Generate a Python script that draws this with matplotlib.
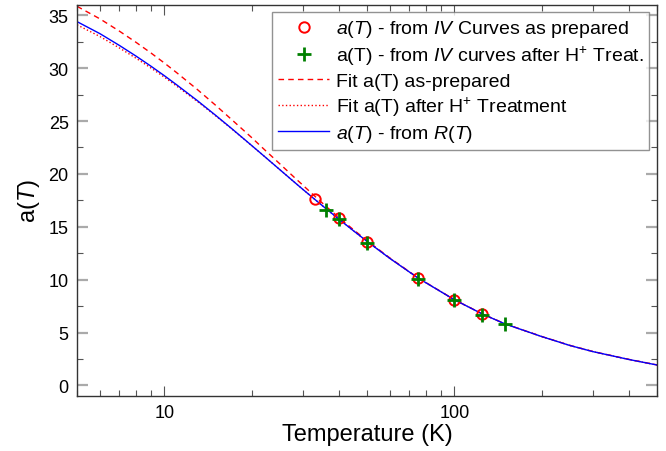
import matplotlib
matplotlib.use("Agg")
import matplotlib.pyplot as plt
from matplotlib.ticker import MultipleLocator, LogLocator, NullFormatter
import numpy as np

plt.rcParams['font.family'] = ['Liberation Sans', 'DejaVu Sans']
plt.rcParams['mathtext.fontset'] = 'custom'
plt.rcParams['mathtext.rm'] = 'Liberation Sans'
plt.rcParams['mathtext.it'] = 'Liberation Sans:italic'

# measured points from IV curves
t_prep = [33, 40, 50, 75, 100, 125]
a_prep = [17.6, 15.8, 13.6, 10.2, 8.1, 6.75]
t_hplus = [36, 40, 50, 75, 100, 125, 150]
a_hplus = [16.6, 15.7, 13.5, 10.1, 8.1, 6.7, 5.8]

# curves
t_curve = [5, 6, 7, 8, 9, 10, 11, 13, 15, 17, 20, 22, 25, 28, 30, 33, 36,
           40, 45, 50, 60, 75, 100, 125, 150, 200, 250, 300, 400, 500]
a_rt = [34.4, 33.26, 32.15, 31.13, 30.18, 29.29, 28.45, 26.93, 25.56, 24.33,
        22.69, 21.72, 20.41, 19.25, 18.55, 17.6, 16.74, 15.72, 14.6, 13.62,
        12.0, 10.15, 8.1, 6.75, 5.8, 4.62, 3.78, 3.2, 2.45, 1.93]
a_fit_prep = [35.85, 34.66, 33.5, 32.43, 31.43, 30.49, 29.6, 27.98, 26.51,
              25.18, 23.44, 22.37, 20.96, 19.7, 18.95, 17.9, 16.96, 15.87,
              14.7, 13.69, 12.04, 10.17, 8.11, 6.76, 5.81, 4.63, 3.79, 3.21,
              2.46, 1.94]
a_fit_hplus = [34.1, 32.99, 31.91, 30.93, 30.01, 29.15, 28.33, 26.85, 25.51,
               24.3, 22.68, 21.72, 20.41, 19.25, 18.55, 17.6, 16.74, 15.72,
               14.6, 13.62, 12.0, 10.15, 8.1, 6.75, 5.8, 4.62, 3.78, 3.2,
               2.45, 1.93]

fig = plt.figure(figsize=(6.66, 4.52), dpi=100)
ax = fig.add_axes([0.1156, 0.1217, 0.871, 0.8657])

ax.plot(t_prep, a_prep, 'o', mfc='none', mec='#ff0000', ms=7.5, mew=1.4,
        label=r'$a$($T$) - from $IV$ Curves as prepared', zorder=5)
ax.plot(t_hplus, a_hplus, '+', color='#008000', ms=10, mew=2.0,
        label=r'a(T) - from $IV$ curves after H$^{+}$ Treat.', zorder=6)
ax.plot(t_curve, a_fit_prep, '--', color='#ff0000', lw=1.0, dashes=(4, 3),
        label='Fit a(T) as-prepared')
ax.plot(t_curve, a_fit_hplus, ':', color='#ff0000', lw=1.0,
        label=r'Fit a(T) after H$^{+}$ Treatment')
ax.plot(t_curve, a_rt, '-', color='#0000ff', lw=1.0,
        label=r'$a$($T$) - from $R$($T$)')

ax.set_xscale('log')
ax.set_xlim(5, 500)
ax.set_ylim(-1, 36)
ax.xaxis.set_minor_locator(LogLocator(base=10, subs=np.arange(2, 10), numticks=10))
ax.xaxis.set_minor_formatter(NullFormatter())
ax.set_xticks([10, 100])
ax.set_xticklabels(['10', '100'])
ax.yaxis.set_major_locator(MultipleLocator(5))
ax.yaxis.set_minor_locator(MultipleLocator(2.5))

for s in ax.spines.values():
    s.set_color('#333333')
    s.set_linewidth(1.0)

ax.tick_params(which='both', direction='in', top=True, right=True,
               labelsize=13, pad=6)
ax.tick_params(axis='x', which='major', length=7, width=0.8, color='#555555')
ax.tick_params(axis='x', which='minor', length=4, width=0.8, color='#555555')
ax.tick_params(axis='y', which='major', length=8, width=1.6, color='#aaaaaa')
ax.tick_params(axis='y', which='minor', length=4, width=0.8, color='#555555')

ax.set_xlabel('Temperature (K)', fontsize=17, labelpad=1)
ax.set_ylabel(r'a($\mathit{T}$)', fontsize=17, labelpad=5)

leg = ax.legend(loc='upper right', fontsize=14, frameon=True, fancybox=False,
                edgecolor='#777777', borderpad=0.3, labelspacing=0.25,
                handlelength=2.6, handletextpad=0.35, borderaxespad=0.4)
leg.get_frame().set_linewidth(1.0)

fig.savefig('out.png', dpi=100)
